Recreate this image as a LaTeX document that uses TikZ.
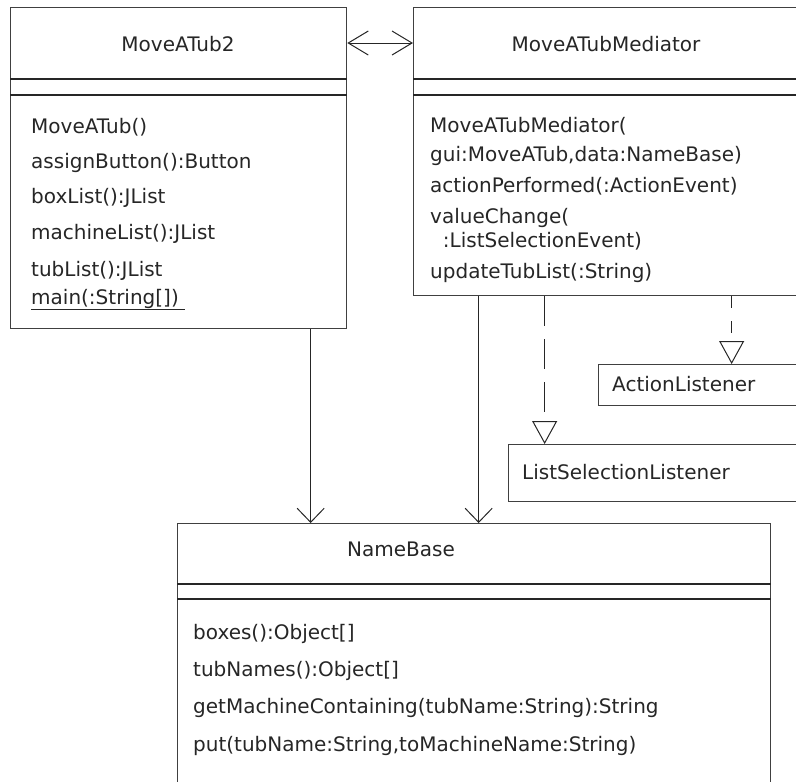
\documentclass[tikz,border=0pt]{standalone}
\usepackage{fontspec}
\setmainfont{DejaVu Sans}
\usetikzlibrary{arrows.meta}

\tikzset{
  classbox/.style={draw=black!75, line width=1.3pt, rectangle, anchor=north west, inner sep=0pt},
  classline/.style={draw=black!85, line width=1.3pt},
  nametext/.style={anchor=base, inner sep=0pt, text=black!85, font=\fontsize{20}{24}\selectfont},
  optext/.style={anchor=base west, inner sep=0pt, text=black!85, font=\fontsize{20}{24}\selectfont},
  nav/.style={draw=black!85, line width=1pt, -{Straight Barb[length=14pt, width=27pt]}},
  assoc/.style={draw=black!85, line width=1pt, {Straight Barb[length=20pt, width=24pt]}-{Straight Barb[length=20pt, width=24pt]}},
  realize/.style={draw=black!85, line width=1pt, -{Triangle[open, length=23pt, width=25pt]}}
}

\begin{document}
\begin{tikzpicture}[x=1pt, y=-1pt]
  \useasboundingbox (0,0) rectangle (796,782);
  \clip (0,0) rectangle (796,782);

  % classes
  \node[classbox, minimum width=336pt, minimum height=321pt] (tub2) at (10,7) {};
  \node[classbox, minimum width=390pt, minimum height=288pt] (med) at (413,7) {};
  \node[classbox, minimum width=593pt, minimum height=300pt] (nb) at (177,523) {};
  \node[classbox, minimum width=250pt, minimum height=41pt] (al) at (598,364) {};
  \node[classbox, minimum width=350pt, minimum height=57pt] (lsl) at (508,444) {};

  % compartments
  \draw[classline] ([yshift=-72pt]tub2.north west) -- ([yshift=-72pt]tub2.north east);
  \draw[classline] ([yshift=-88pt]tub2.north west) -- ([yshift=-88pt]tub2.north east);
  \draw[classline] ([yshift=-72pt]med.north west) -- ([yshift=-72pt]med.north east);
  \draw[classline] ([yshift=-88pt]med.north west) -- ([yshift=-88pt]med.north east);
  \draw[classline] ([yshift=-61pt]nb.north west) -- ([yshift=-61pt]nb.north east);
  \draw[classline] ([yshift=-76pt]nb.north west) -- ([yshift=-76pt]nb.north east);

  % names
  \node[nametext] (tub2name) at (178,51) {MoveATub2};
  \node[nametext] (medname) at (606,51) {MoveATubMediator};
  \node[optext] (nbname) at (347,556) {NameBase};
  \node[optext] (alname) at (612,391) {ActionListener};
  \node[optext] (lslname) at (522,479) {ListSelectionListener};

  % operations
  \foreach \y/\t [count=\i] in {133/MoveATub(), 168/assignButton():Button, 203/boxList():JList,
      239/machineList():JList, 276/tubList():JList}
    \node[optext] (tub2op\i) at (31,\y) {\t};
  \node[optext] (tub2main) at (31,304) {\underline{main(:String[])\hspace{6pt}}};

  \foreach \y/\t [count=\i] in {132/MoveATubMediator(, 161/{gui:MoveATub,data:NameBase)},
      192/actionPerformed(:ActionEvent), 223/valueChange(, 247/\ \ :ListSelectionEvent),
      278/updateTubList(:String)}
    \node[optext] (medop\i) at (430,\y) {\t};

  \foreach \y/\t [count=\i] in {639/boxes():Object[], 676/tubNames():Object[],
      713/getMachineContaining(tubName:String):String, 751/{put(tubName:String,toMachineName:String)}}
    \node[optext] (nbop\i) at (193,\y) {\t};

  % connectors
  \draw[assoc] ([yshift=-36pt]tub2.north east) -- ([yshift=-36pt]med.north west);
  \draw[nav] ([xshift=132pt]tub2.south) -- ([xshift=132pt]tub2.south |- nb.north);
  \draw[nav] ([xshift=-130pt]med.south) -- ([xshift=-130pt]med.south |- nb.north);
  \draw[realize, dash pattern=on 30pt off 13pt] ([xshift=-64pt]med.south) -- ([xshift=-64pt]med.south |- lsl.north);
  \draw[realize, dash pattern=on 12pt off 13pt] ([xshift=123pt]med.south) -- ([xshift=123pt]med.south |- al.north);
\end{tikzpicture}
\end{document}
